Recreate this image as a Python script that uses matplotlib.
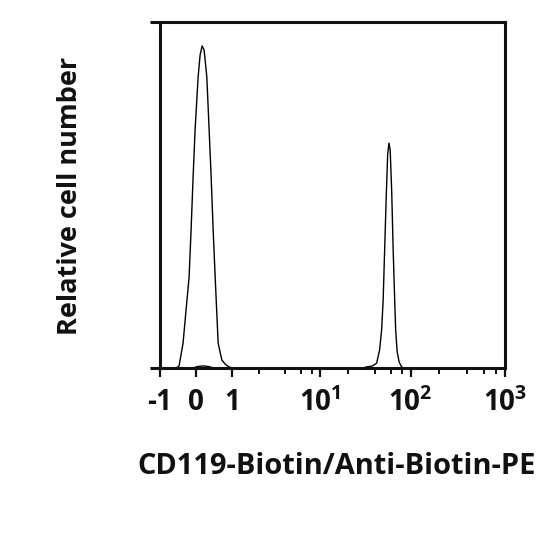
import numpy as np
import matplotlib
matplotlib.use("Agg")
import matplotlib.pyplot as plt

# ---- data ----
# control / unstained histogram (x in fluorescence units, y relative count, axis top = 100)
ctrl_x = [-0.556, -0.472, -0.361, -0.278, -0.194, -0.139, -0.083, -0.028, 0.056, 0.111,
          0.167, 0.222, 0.297, 0.361, 0.417, 0.472, 0.528, 0.569, 0.611, 0.713, 0.815, 0.917, 1.0]
ctrl_y = [0.0, 0.6, 7.2, 16.8, 26.3, 39.9, 55.2, 68.8, 84.1, 90.5,
          93.1, 91.9, 84.1, 68.8, 55.2, 39.9, 26.3, 16.8, 7.2, 2.3, 1.0, 0.3, 0.0]

# stained histogram: small bump near 0 and main peak near 60
stain_x = [-0.083, 0.028, 0.194, 0.361, 0.472,
           29.3, 32.4, 37.8, 41.9, 45.2, 47.6, 49.5, 51.4, 53.4, 55.5, 57.4, 59.2,
           61.5, 63.9, 66.4, 68.1, 70.8, 74.5, 79.4, 83.6]
stain_y = [0.0, 0.4, 0.6, 0.4, 0.0,
           0.0, 0.3, 0.6, 1.4, 5.2, 11.0, 19.7, 34.1, 48.6, 61.6, 65.0, 63.0,
           51.4, 34.1, 19.7, 11.0, 4.6, 1.7, 0.3, 0.0]

major_ticks = [-1, 0, 1, 10, 100, 1000]
major_labels = ["-1", "0", "1",
                r"$\mathbf{10^{1}}$", r"$\mathbf{10^{2}}$", r"$\mathbf{10^{3}}$"]
minor_mult = [2, 4, 6, 8]
xlabel = "CD119-Biotin/Anti-Biotin-PE"
ylabel = "Relative cell number"

# ---- scale: linear from -1 to 1, log above 1 (logicle-like display) ----
_lg = [0, 1, 2, 3, 4]
_ps = [72, 160, 250, 344, 438]


def fwd(x):
    x = np.asarray(x, dtype=float)
    lg = np.log10(np.clip(x, 1, 1e6))
    return np.where(x <= 1, 36.0 * (x + 1), np.interp(lg, _lg, _ps))


def inv(p):
    p = np.asarray(p, dtype=float)
    return np.where(p <= 72, p / 36.0 - 1, 10 ** np.interp(p, _ps, _lg))


FONT = "Open Sans"
plt.rcParams["font.family"] = [FONT, "DejaVu Sans"]
plt.rcParams["mathtext.fontset"] = "custom"
plt.rcParams["mathtext.bf"] = FONT + ":bold"
plt.rcParams["mathtext.rm"] = FONT + ":bold"
plt.rcParams["mathtext.default"] = "bf"
plt.rcParams["axes.unicode_minus"] = False

fig = plt.figure(figsize=(5.4, 5.4), dpi=100)
W = H = 540.0
L, R, T, B = 160, 505, 22, 368
ax = fig.add_axes([L / W, 1 - B / H, (R - L) / W, (B - T) / H])
ax.set_xscale("function", functions=(fwd, inv))
ax.set_xlim(-1, 1000)
ax.set_ylim(0, 100)

ax.plot(ctrl_x, ctrl_y, color="black", lw=1.0)
ax.plot(stain_x, stain_y, color="black", lw=1.0)

spine_lw = 2.2
for s in ax.spines.values():
    s.set_linewidth(spine_lw)
    s.set_color("#111111")
# top/bottom lines extend a little to the left of the frame
ext = -10 / (R - L)
for yy in (0, 1):
    ax.plot([ext, 0], [yy, yy], transform=ax.transAxes, clip_on=False,
            color="#111111", lw=spine_lw, solid_capstyle="butt")

minor = [m * 10 ** d for d in range(0, 3) for m in minor_mult]
ax.set_xticks(major_ticks)
ax.set_xticklabels(major_labels)
ax.set_xticks(minor, minor=True)
ax.set_yticks([])
ax.tick_params(axis="x", which="major", direction="out", length=6.5, width=1.6,
               pad=8, labelsize=20, colors="#111111")
ax.tick_params(axis="x", which="minor", direction="out", length=4.3, width=1.4,
               colors="#111111")
for lab in ax.get_xticklabels():
    lab.set_fontweight("bold")

fig.text(337 / W, 1 - 473.5 / H, xlabel, ha="center", va="baseline",
         fontsize=20.9, fontweight="bold", color="#111111")
fig.text(77 / W, 1 - 195.5 / H, ylabel, rotation=90, rotation_mode="anchor",
         ha="center", va="baseline", fontsize=19.5, fontweight="bold", color="#111111")

fig.savefig("out.png", dpi=100)
